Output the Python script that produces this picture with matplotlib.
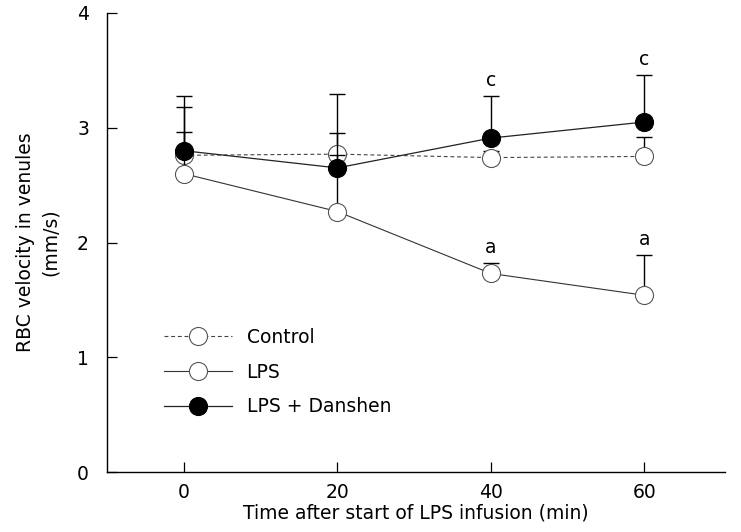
import matplotlib
matplotlib.use("Agg")
from matplotlib import pyplot as plt
from matplotlib.lines import Line2D

plt.rcParams['font.family'] = ['DejaVu Sans']

# data
times = [0, 20, 40, 60]

control_mean = [2.76, 2.77, 2.74, 2.75]
control_sd = [0.42, 0.52, 0.06, 0.17]

lps_mean = [2.60, 2.27, 1.73, 1.54]
lps_sd = [0.36, 0.68, 0.09, 0.35]

danshen_mean = [2.80, 2.65, 2.91, 3.05]
danshen_sd = [0.48, 0.11, 0.37, 0.41]

# significance letters above the upper caps
lps_letters = ['', '', 'a', 'a']
danshen_letters = ['', '', 'c', 'c']

x_ticks = [0, 20, 40, 60]
y_ticks = [0, 1, 2, 3, 4]

fs = 13.5
ms = 13

fig = plt.figure(figsize=(7.41, 5.32), dpi=100)
ax = fig.add_axes([107 / 741, 1 - 472 / 532, (725 - 107) / 741, (472 - 13) / 532])

control_style = dict(linestyle=(0, (3.5, 2.5)), color='#444444', linewidth=0.8, marker='o',
                     markersize=ms, markerfacecolor='white', markeredgecolor='#555555',
                     markeredgewidth=0.8)
lps_style = dict(linestyle='-', color='#333333', linewidth=0.8, marker='o',
                 markersize=ms, markerfacecolor='white', markeredgecolor='#555555',
                 markeredgewidth=0.8)
danshen_style = dict(linestyle='-', color='#222222', linewidth=0.9, marker='o',
                     markersize=ms, markerfacecolor='black', markeredgecolor='black',
                     markeredgewidth=0.8)

series = [
    (control_mean, control_sd, control_style, 2.0),
    (lps_mean, lps_sd, lps_style, 2.2),
    (danshen_mean, danshen_sd, danshen_style, 2.4),
]

# each series: upper error bar just beneath its own markers
for mean, sd, style, z in series:
    lower = [0] * len(sd)
    ax.errorbar(times, mean, yerr=[lower, sd], fmt='none', ecolor='black', elinewidth=1.0,
                capsize=5.8, capthick=1.0, zorder=z - 0.1)
    ax.plot(times, mean, zorder=z, **style)

# letters above caps
for mean, sd, letters in [(lps_mean, lps_sd, lps_letters), (danshen_mean, danshen_sd, danshen_letters)]:
    for t, m, s, l in zip(times, mean, sd, letters):
        if l:
            ax.text(t, m + s + 0.05, l, ha='center', va='bottom', fontsize=fs)

ax.set_xlim(-10, 70.5)
ax.set_ylim(0, 4)
ax.set_xticks(x_ticks)
ax.set_yticks(y_ticks)
ax.tick_params(direction='in', length=7, width=0.9, labelsize=fs)
ax.tick_params(axis='x', pad=8)
ax.tick_params(axis='y', pad=13)
ax.spines['top'].set_visible(False)
ax.spines['right'].set_visible(False)
ax.spines['left'].set_linewidth(1.0)
ax.spines['bottom'].set_linewidth(1.0)

ax.set_xlabel('Time after start of LPS infusion (min)', fontsize=fs, labelpad=1)
ax.set_ylabel('RBC velocity in venules\n(mm/s)', fontsize=fs, labelpad=12, linespacing=1.45)

handles = [Line2D([], [], **control_style), Line2D([], [], **lps_style),
           Line2D([], [], **danshen_style)]
ax.legend(handles, ['Control', 'LPS', 'LPS + Danshen'], loc='upper left',
          bbox_to_anchor=(0.065, 0.351), frameon=False, fontsize=fs, handlelength=3.6,
          labelspacing=0.84, handletextpad=0.8)

fig.savefig('out.png', dpi=100)
